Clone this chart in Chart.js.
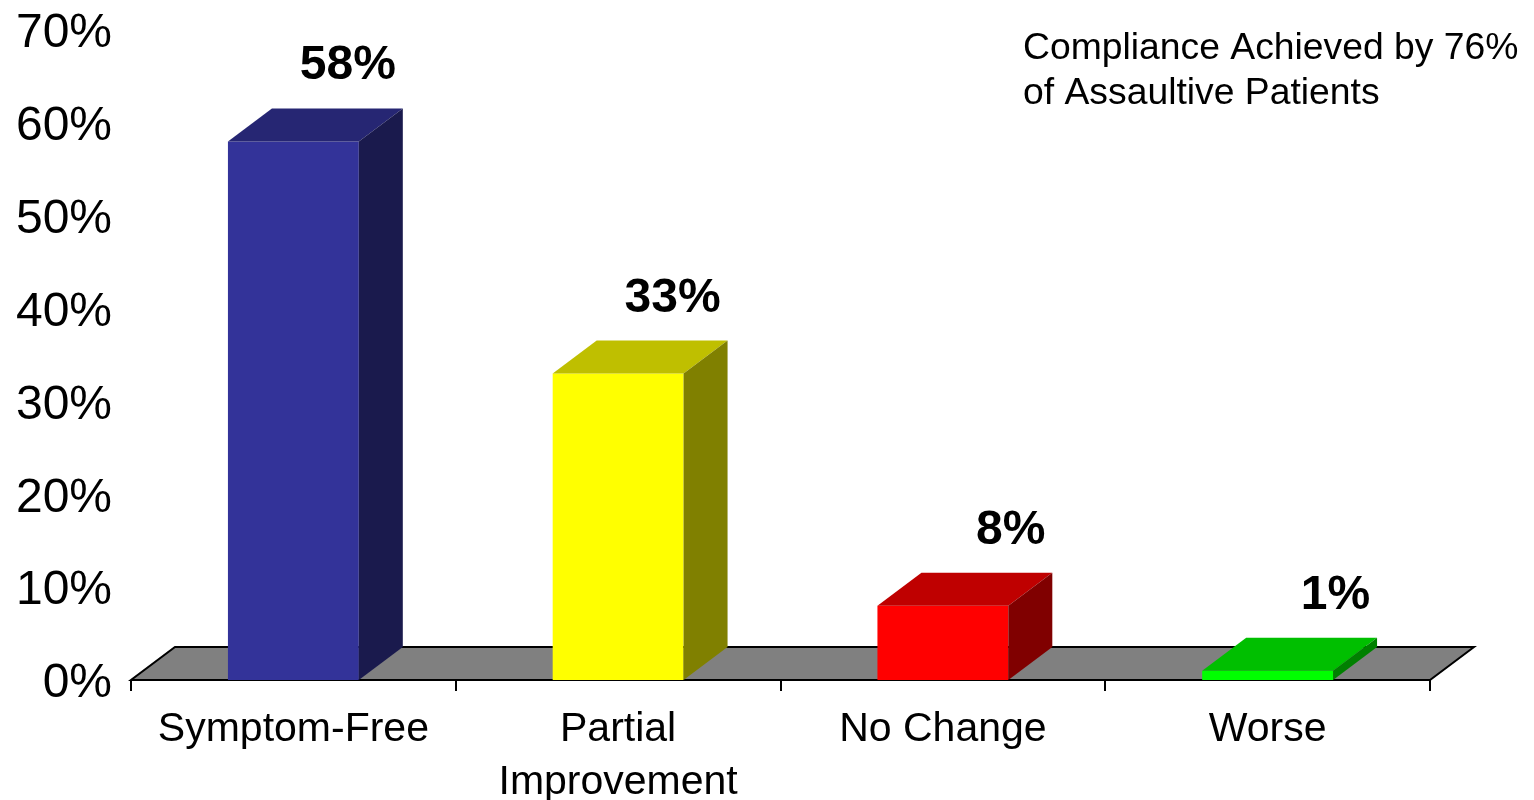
<!DOCTYPE html>
<html>
<head>
<meta charset="utf-8">
<title>Outcome of Assaultive Patients</title>
<script src="https://cdn.jsdelivr.net/npm/chart.js@4.4.0/dist/chart.umd.min.js"></script>
<style>
  html, body { margin: 0; padding: 0; background: #fff; }
  canvas { display: block; }
</style>
</head>
<body>
<canvas id="outcomeChart" width="1534" height="800"></canvas>
<script>
// data
const categories = ['Symptom-Free', ['Partial', 'Improvement'], 'No Change', 'Worse'];
const outcomePct = [58, 33, 8, 1];
const yTicks = [0, 10, 20, 30, 40, 50, 60, 70];
const noteLines = ['Compliance Achieved by 76%', 'of Assaultive Patients'];

// face colours: front, top (darker), side (darkest)
const frontColors = ['#333399', '#FFFF00', '#FF0000', '#00FF00'];
const topColors = ['#262673', '#BFBF00', '#BF0000', '#00BF00'];
const sideColors = ['#1A1A4D', '#808000', '#800000', '#008000'];

const FONT = "'Liberation Sans', Arial, sans-serif";
const DX = 44, DY = 33;   // depth of the 3d extrusion

function quad(ctx, pts, fill) {
    ctx.beginPath();
    ctx.moveTo(pts[0][0], pts[0][1]);
    for (let i = 1; i < pts.length; i++) ctx.lineTo(pts[i][0], pts[i][1]);
    ctx.closePath();
    ctx.fillStyle = fill;
    ctx.fill();
}

// grey floor under the bars
const floorPlugin = {
    id: 'floor',
    beforeDatasetsDraw(chart) {
        const ctx = chart.ctx;
        const {left, right} = chart.chartArea;
        const y0 = chart.scales.y.getPixelForValue(0);
        ctx.save();
        quad(ctx, [[left, y0], [right, y0], [right + DX, y0 - DY], [left + DX, y0 - DY]], '#808080');
        ctx.lineWidth = 2;
        ctx.strokeStyle = '#000';
        ctx.lineJoin = 'miter';
        ctx.stroke();
        ctx.restore();
    }
};

// top + side faces and the value labels
const boxPlugin = {
    id: 'box3d',
    afterDatasetsDraw(chart) {
        const ctx = chart.ctx;
        const meta = chart.getDatasetMeta(0);
        ctx.save();
        meta.data.forEach((bar, i) => {
            const {x, y, base, width} = bar.getProps(['x', 'y', 'base', 'width'], true);
            const l = x - width / 2, r = x + width / 2;
            quad(ctx, [[l, y], [r, y], [r + DX, y - DY], [l + DX, y - DY]], topColors[i]);
            quad(ctx, [[r, y], [r + DX, y - DY], [r + DX, base - DY], [r, base]], sideColors[i]);

            ctx.fillStyle = '#000';
            ctx.font = 'bold 48px ' + FONT;
            ctx.textAlign = 'right';
            ctx.textBaseline = 'alphabetic';
            ctx.fillText(outcomePct[i] + '%', r + DX - 7, y - DY - 29);
        });
        ctx.restore();
    },
    afterDraw(chart) {
        const ctx = chart.ctx;
        ctx.save();
        ctx.fillStyle = '#000';
        ctx.font = '37.3px ' + FONT;
        ctx.textAlign = 'left';
        ctx.textBaseline = 'alphabetic';
        noteLines.forEach((t, i) => ctx.fillText(t, 1023, 59 + i * 45));
        ctx.restore();
    }
};

new Chart(document.getElementById('outcomeChart'), {
    type: 'bar',
    data: {
        labels: categories,
        datasets: [{
            data: outcomePct,
            backgroundColor: frontColors,
            borderWidth: 0,
            categoryPercentage: 1,
            barPercentage: 0.403
        }]
    },
    options: {
        responsive: false,
        animation: false,
        devicePixelRatio: 1,
        layout: { padding: { top: 30, right: 104, left: 0, bottom: 0 } },
        plugins: {
            legend: { display: false },
            tooltip: { enabled: false },
            title: { display: false }
        },
        scales: {
            x: {
                afterFit(scale) { scale.height = 120; },
                border: { display: false },
                grid: {
                    offset: true,
                    drawOnChartArea: false,
                    drawTicks: true,
                    tickLength: 11,
                    color: '#000',
                    lineWidth: 2
                },
                ticks: {
                    color: '#000',
                    padding: 12,
                    maxRotation: 0,
                    autoSkip: false,
                    font: { family: FONT, size: 41, lineHeight: 1.3 }
                }
            },
            y: {
                min: 0,
                max: 70,
                afterFit(scale) {
                    scale.width = 131;
                    scale.paddingTop = 0;
                    scale.paddingBottom = 0;
                },
                afterBuildTicks(scale) { scale.ticks = yTicks.map(v => ({ value: v })); },
                border: { display: false },
                grid: { display: false, drawTicks: false },
                ticks: {
                    color: '#000',
                    padding: 19,
                    labelOffset: 4,
                    font: { family: FONT, size: 48, lineHeight: 1 },
                    callback: v => v + '%'
                }
            }
        }
    },
    plugins: [floorPlugin, boxPlugin]
});
</script>
</body>
</html>
